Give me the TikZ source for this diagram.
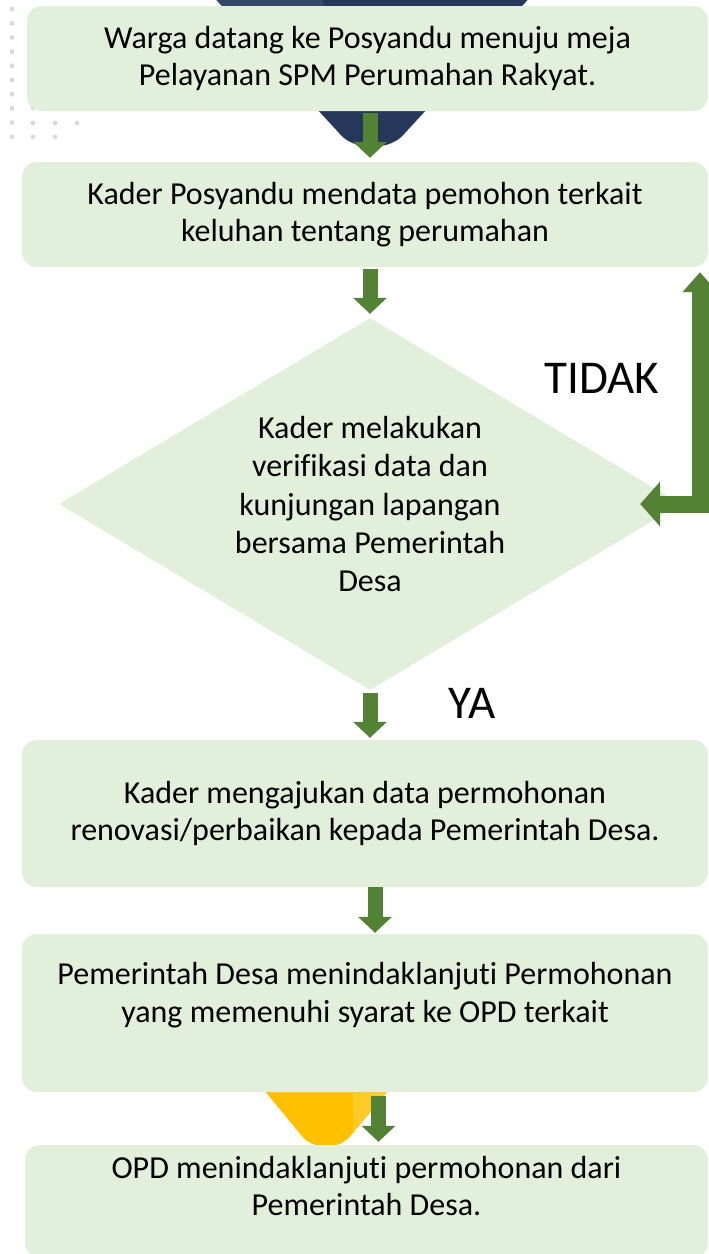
\documentclass[tikz,border=0pt]{standalone}
\usepackage{fontspec}
\setmainfont[Ligatures=NoCommon]{Carlito}
\usetikzlibrary{arrows.meta,positioning,shapes.geometric}
\definecolor{BoxGreen}{HTML}{E2EFDA}
\definecolor{Leaf}{HTML}{548235}
\definecolor{Navy}{HTML}{263859}
\definecolor{NavyLight}{HTML}{34486A}
\definecolor{Amber}{HTML}{FFC000}
\definecolor{AmberLight}{HTML}{FFC928}
\definecolor{DotGrey}{HTML}{D9D9D9}

\begin{document}
\begin{tikzpicture}[x=1pt,y=-1pt,
    caption/.style={align=center,font=\fontsize{32}{37.5}\selectfont},
    card/.style={caption,rounded corners=15pt,fill=BoxGreen,inner sep=0pt},
    decision/.style={caption,font=\fontsize{32}{38.3}\selectfont,diamond,aspect=1.67,
                     fill=BoxGreen,inner sep=0pt,minimum width=622pt,minimum height=372pt},
    flow/.style={-{Triangle[width=33pt,length=16pt]},line width=15pt,draw=Leaf},
    loopback/.style={{Triangle[width=44pt,length=20pt]}-{Triangle[width=34pt,length=20pt]},
                     line width=17pt,draw=Leaf,line join=miter},
    tag/.style={font=\fontsize{47}{50}\selectfont}]
  \useasboundingbox (0,0) rectangle (709,1254);

  % dots in the corner
  \foreach \i in {0,...,9}
    \fill[DotGrey] (12,{9+14.2*\i}) circle (2.4);
  \foreach \p in {(33,108),(33,123),(55,123),(77,123),(33,137),(55,137)}
    \fill[DotGrey] \p circle (2.4);

  % navy and amber shapes behind the cards
  \fill[Navy,rounded corners=14pt] (198,-20) -- (351,146) -- (393,146) -- (546,-20) -- cycle;
  \begin{scope}
    \clip (190,-30) rectangle (323,60);
    \fill[NavyLight] (198,-20) -- (351,146) -- (393,146) -- (546,-20) -- cycle;
  \end{scope}
  \fill[Amber,rounded corners=12pt] (250,1073) -- (310,1146) -- (342,1146) -- (403,1073) -- cycle;
  \begin{scope}
    \clip (353,1060) rectangle (420,1160);
    \fill[AmberLight,rounded corners=12pt] (250,1073) -- (310,1146) -- (342,1146) -- (403,1073) -- cycle;
  \end{scope}

  % steps
  \node[card,minimum width=681pt,minimum height=105pt] (warga) at (367.5,58.5)
    {Warga datang ke Posyandu menuju meja\\Pelayanan SPM Perumahan Rakyat.};
  \node[card,minimum width=686pt,minimum height=105pt] (kader) at (365,214.5)
    {Kader Posyandu mendata pemohon terkait\\keluhan tentang perumahan};
  \node[decision] (cek) at (370,504)
    {Kader melakukan\\verifikasi data dan\\kunjungan lapangan\\bersama Pemerintah\\Desa};
  \node[card,minimum width=686pt,minimum height=147pt] (ajukan) at (365,813.5)
    {Kader mengajukan data permohonan\\renovasi/perbaikan kepada Pemerintah Desa.};
  \node[card,minimum width=686pt,minimum height=158pt] (desa) at (365,1013) {};
  \node[caption] (desatext) at ([yshift=-61.5pt]desa.north)
    {Pemerintah Desa menindaklanjuti Permohonan\\yang memenuhi syarat ke OPD terkait};
  \node[card,minimum width=683pt,minimum height=113pt] (opd) at (366.5,1201.5) {};
  \node[caption] (opdtext) at ([yshift=-41pt]opd.north)
    {OPD menindaklanjuti permohonan dari\\Pemerintah Desa.};

  \node[tag] (tidak) at (602,378) {TIDAK};
  \node[tag] (ya) at (472,703) {YA};

  % arrows
  \draw[flow,shorten <=2pt,shorten >=4pt] (warga.south -| cek.north) -- (kader.north -| cek.north);
  \draw[flow,shorten <=2pt,shorten >=4pt] (kader.south -| cek.north) -- (cek.north);
  \draw[flow,shorten <=3pt,shorten >=2pt] (cek.south) -- (ajukan.north -| cek.south);
  \draw[flow,shorten >=1pt] ([xshift=10pt]ajukan.south) -- ([xshift=10pt]desa.north);
  \draw[flow,shorten <=4pt,shorten >=3pt] ([xshift=13.5pt]desa.south) -- ([xshift=12pt]opd.north);

  \coordinate (elbow) at (700,504);
  \draw[loopback,shorten >=5pt] ([xshift=-41pt]cek.east) -- (elbow) -- (elbow |- kader.south);
\end{tikzpicture}
\end{document}
